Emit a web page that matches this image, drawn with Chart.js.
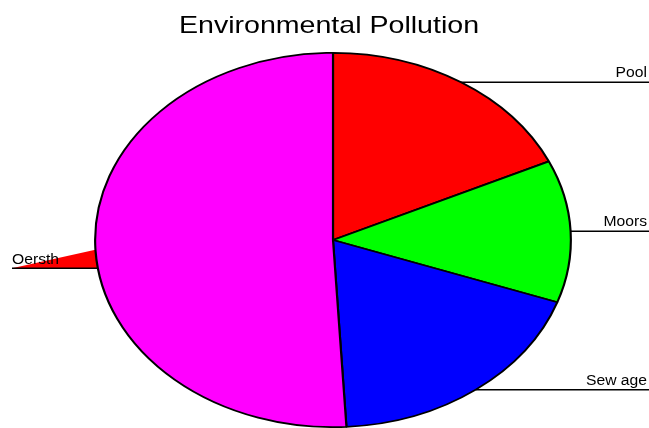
<!DOCTYPE html>
<html>
<head>
<meta charset="utf-8">
<script src="https://cdn.jsdelivr.net/npm/chart.js@4/dist/chart.umd.min.js"></script>
<style>
  html, body { margin: 0; padding: 0; background: #ffffff; overflow: hidden; }
  #wrap { position: relative; width: 649px; height: 428px; }
  #oersth { position: absolute; left: 12px; top: 232px; z-index: 0; }
  #main { position: absolute; left: 0; top: 0; z-index: 1; }
</style>
</head>
<body>
<div id="wrap">
  <canvas id="oersth" width="150" height="40"></canvas>
  <canvas id="main" width="649" height="428"></canvas>
</div>
<script>
// ---- data ----
const titleText = "Environmental Pollution";
const categories = ["Pool", "Moors", "Sew age", "", "Oersth"];
const values = [18.1, 12.3, 18.7, 50.9, 0.3];
const sliceColors = ["#ff0000", "#00ff00", "#0000ff", "#ff00ff", "#ff0000"];

// ---- styles ----
const FONT = "'Liberation Sans', Arial, sans-serif";
const pieAspect = 1.271;      // horizontal stretch of the pie (ellipse)
const labelFont = "14px " + FONT;
const labelStretch = 1.12;
const titleFont = "24px " + FONT;
const titleStretch = 1.19;

function drawStretched(ctx, text, x, y, align, font, stretch) {
  ctx.save();
  ctx.font = font;
  ctx.fillStyle = "#000";
  ctx.textAlign = align;
  ctx.textBaseline = "alphabetic";
  ctx.translate(x, y);
  ctx.scale(stretch, 1);
  ctx.fillText(text, 0, 0);
  ctx.restore();
}

const ellipsePlugin = {
  id: "ellipse",
  beforeDatasetsDraw(chart) {
    const a = chart.getDatasetMeta(0).data[0];
    const ctx = chart.ctx;
    ctx.save();
    ctx.translate(a.x, a.y);
    ctx.scale(pieAspect, 1);
    ctx.translate(-a.x, -a.y);
  },
  afterDatasetsDraw(chart) {
    chart.ctx.restore();
  }
};

const labelPlugin = {
  id: "labels",
  afterDraw(chart) {
    const ctx = chart.ctx;
    const meta = chart.getDatasetMeta(0);
    meta.data.forEach((arc, i) => {
      const text = chart.data.labels[i];
      if (!text) return;
      const mid = (arc.startAngle + arc.endAngle) / 2;
      const px = arc.x + arc.outerRadius * pieAspect * Math.cos(mid);
      const py = arc.y + arc.outerRadius * Math.sin(mid);
      const right = Math.cos(mid) >= 0;
      ctx.save();
      ctx.strokeStyle = "#000";
      ctx.lineWidth = 1.5;
      ctx.beginPath();
      ctx.moveTo(px, py);
      ctx.lineTo(right ? chart.width : 12, py);
      ctx.stroke();
      ctx.restore();
      drawStretched(ctx, text, right ? chart.width - 2 : 12, py - 5,
                    right ? "right" : "left", labelFont, labelStretch);
    });
    drawStretched(ctx, titleText, 329, 33, "center", titleFont, titleStretch);
  }
};

new Chart(document.getElementById("main"), {
  type: "pie",
  data: {
    labels: categories.slice(0, 4),
    datasets: [{
      data: values.slice(0, 4),
      backgroundColor: sliceColors.slice(0, 4),
      borderColor: "#000000",
      borderWidth: 1.7
    }]
  },
  options: {
    responsive: false,
    animation: false,
    layout: { padding: { top: 52, left: 17, right: 0, bottom: 0 } },
    plugins: { legend: { display: false }, tooltip: { enabled: false }, title: { display: false } }
  },
  plugins: [ellipsePlugin, labelPlugin]
});

// The exploded "Oersth" slice, drawn behind the main pie
const oersthPlugin = {
  id: "oersthLabel",
  afterDatasetsDraw(chart) {
    const ctx = chart.ctx;
    const arc = chart.getDatasetMeta(0).data[0];
    ctx.save();
    ctx.strokeStyle = "#000";
    ctx.lineWidth = 1.5;
    ctx.beginPath();
    ctx.moveTo(arc.x, arc.y);
    ctx.lineTo(chart.width, arc.y);
    ctx.stroke();
    ctx.restore();
    drawStretched(ctx, chart.data.labels[0], arc.x, arc.y - 4.5, "left", labelFont, labelStretch);
  }
};

new Chart(document.getElementById("oersth"), {
  type: "pie",
  data: {
    labels: [categories[4]],
    datasets: [{
      data: [values[4]],
      backgroundColor: [sliceColors[4]],
      borderWidth: 0
    }]
  },
  options: {
    responsive: false,
    animation: false,
    rotation: 77.4,
    circumference: 12.6,
    layout: { padding: 0 },
    plugins: { legend: { display: false }, tooltip: { enabled: false } }
  },
  plugins: [oersthPlugin]
});
</script>
</body>
</html>
